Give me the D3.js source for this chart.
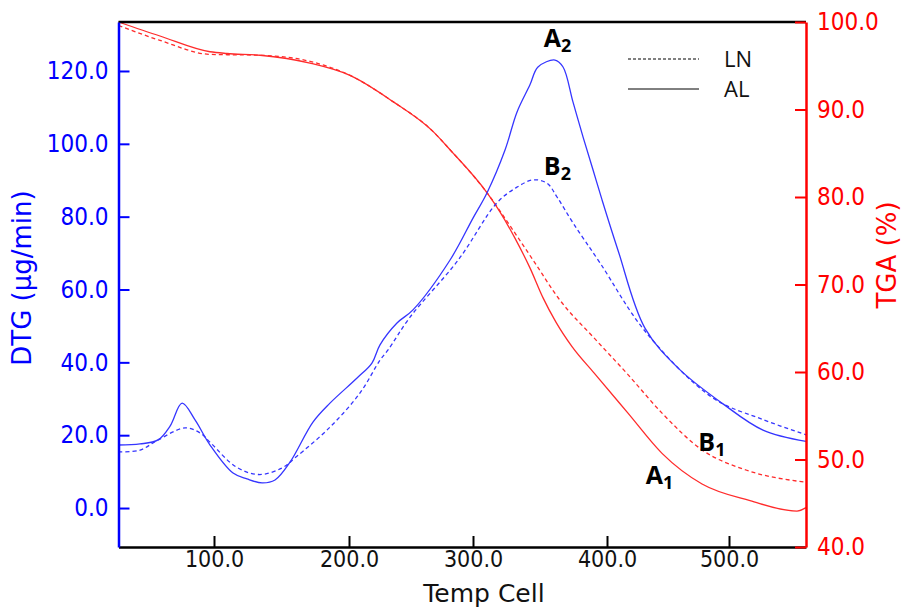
<!DOCTYPE html>
<html><head><meta charset="utf-8">
<script src="https://cdn.jsdelivr.net/npm/d3@7"></script>
<style>body{margin:0;background:#fff} svg{display:block}</style>
</head><body><svg id="c" width="901" height="610"></svg>
<script>
// ---- data ----
const xTicks = [100, 200, 300, 400, 500];
const dtgTicks = [0, 20, 40, 60, 80, 100, 120];
const tgaTicks = [40, 50, 60, 70, 80, 90, 100];
// temperature break points of the (non-uniform) Temp Cell axis
const tempBreaks = [30, 100, 200, 300, 400, 500, 563];

const alDtgT = [30, 45.8, 59, 67.8, 76.6, 86.1, 97.1, 114.1, 124.4, 135.6, 145.2, 156.3, 173.3, 185.9, 206.5, 218.5, 225, 238.7, 251.6, 281.5, 300, 310.4, 323.9, 332.8, 342.5, 348.5, 361.2, 367.2, 374.6, 382.1, 389.6, 396.3, 409, 431.1, 459, 495.1, 527.8, 563];
const alDtgV = [17.3, 17.6, 18.7, 22.5, 28.8, 24.2, 17.3, 9.6, 8.0, 6.9, 7.7, 12.6, 23.6, 28.8, 35.7, 39.8, 44.8, 50.8, 54.4, 68.1, 79.6, 86.5, 98.3, 108.7, 116.2, 121.1, 123.0, 121.1, 111.5, 101.9, 92.8, 84.6, 70.8, 49.4, 38.2, 28.6, 21.4, 18.3];

const lnDtgT = [30, 45.8, 59, 78.8, 89.8, 97.8, 116.3, 133.3, 150.4, 160.7, 185.9, 208.9, 225, 231.5, 249.2, 288.1, 317.9, 332.8, 344.8, 355.2, 362.7, 374.6, 394.8, 431.1, 486.5, 527.8, 563];
const lnDtgV = [15.4, 15.9, 18.7, 22.0, 20.6, 17.8, 11.3, 9.2, 11.0, 14.0, 22.2, 31.6, 40.6, 43.4, 52.4, 68.1, 83.8, 88.1, 90.1, 89.2, 85.4, 78.3, 67.3, 48.6, 30.3, 24.3, 20.1];

const alTgaT = [30, 60.4, 97.1, 109.6, 134.1, 171.1, 200.8, 235.5, 267.7, 281.5, 310.4, 320.1, 331.3, 342.5, 352.2, 361.9, 373.9, 390.3, 417.2, 445.1, 477.9, 517.2, 555.6, 563];
const alTgaV = [100.0, 98.4, 96.6, 96.4, 96.2, 95.3, 93.9, 90.9, 87.5, 85.4, 80.5, 78.3, 75.3, 71.9, 68.5, 65.7, 62.9, 59.9, 55.3, 50.7, 47.2, 45.3, 44.1, 44.5];

const lnTgaT = [30, 60.4, 97.1, 134.1, 171.1, 200.8, 235.5, 267.7, 281.5, 310.4, 329.9, 344.8, 364.9, 390.3, 417.2, 445.1, 477.9, 513.9, 563];
const lnTgaV = [99.6, 97.9, 96.3, 96.2, 95.5, 93.9, 90.9, 87.5, 85.4, 80.5, 76.2, 72.8, 68.2, 63.9, 59.7, 55.3, 51.1, 48.8, 47.4];

const legendNames = ["LN", "AL"];
const peakLabels = [
  {letter: "A", sub: "2", t: 363, v: 126.5, axis: "dtg"},
  {letter: "B", sub: "2", t: 363, v: 91.5, axis: "dtg"},
  {letter: "B", sub: "1", t: 486, v: 51.0, axis: "tga"},
  {letter: "A", sub: "1", t: 443, v: 47.2, axis: "tga"}
];

// ---- chart ----
const L = 118.5, R = 806, T = 22, B = 547;
const svg = d3.select("#c");
const x = d3.scaleLinear().domain(tempBreaks).range([L, 214, 349, 473, 607, 729, R]);
const yL = d3.scaleLinear().domain([-10.7, 133.45]).range([B, T]);
const yR = d3.scaleLinear().domain([40, 100]).range([B, T]);

const BLUE = "#3535ff", RED = "#ff2b2b";
const tickFont = "'DejaVu Sans Condensed','DejaVu Sans',sans-serif";
const titleFont = "'DejaVu Sans',sans-serif";

function series(tArr, vArr, y, color, dash, curve) {
  const pts = tArr.map((t, i) => [t, vArr[i]]);
  svg.append("path").datum(pts)
    .attr("fill", "none").attr("stroke", color).attr("stroke-width", 1.3)
    .attr("stroke-dasharray", dash || null)
    .attr("d", d3.line().x(d => x(d[0])).y(d => y(d[1])).curve(curve));
}
series(lnTgaT, lnTgaV, yR, RED, "4,3", d3.curveMonotoneX);
series(alTgaT, alTgaV, yR, RED, null, d3.curveMonotoneX);
series(lnDtgT, lnDtgV, yL, BLUE, "4,3", d3.curveCatmullRom.alpha(0.5));
series(alDtgT, alDtgV, yL, BLUE, null, d3.curveCatmullRom.alpha(0.5));

// top border
svg.append("line").attr("x1", L).attr("x2", R).attr("y1", T).attr("y2", T)
  .attr("stroke", "#000").attr("stroke-width", 2.5);

// bottom axis
const gx = svg.append("g").attr("transform", `translate(0,${B})`)
  .call(d3.axisBottom(x).tickValues(xTicks).tickFormat(d3.format(".1f")).tickSizeInner(-11).tickSizeOuter(0).tickPadding(4));
gx.select(".domain").attr("stroke", "#000").attr("stroke-width", 2.5);
gx.selectAll(".tick line").attr("stroke", "#000").attr("stroke-width", 2);
gx.selectAll("text").attr("fill", "#111").style("font-family", tickFont).style("font-size", "23px");

// left axis
const gl = svg.append("g").attr("transform", `translate(${L},0)`)
  .call(d3.axisLeft(yL).tickValues(dtgTicks).tickFormat(d3.format(".1f")).tickSizeInner(-11).tickSizeOuter(0).tickPadding(10));
gl.select(".domain").attr("stroke", "#0000ff").attr("stroke-width", 2.5);
gl.selectAll(".tick line").attr("stroke", "#0000ff").attr("stroke-width", 2);
gl.selectAll("text").attr("fill", "#0000ff").style("font-family", tickFont).style("font-size", "24px");

// right axis
const gr = svg.append("g").attr("transform", `translate(${R},0)`)
  .call(d3.axisRight(yR).tickValues(tgaTicks).tickFormat(d3.format(".1f")).tickSizeInner(-11).tickSizeOuter(0).tickPadding(11));
gr.select(".domain").attr("stroke", "#ff0000").attr("stroke-width", 2.5);
gr.selectAll(".tick line").attr("stroke", "#ff0000").attr("stroke-width", 2);
gr.selectAll("text").attr("fill", "#ff0000").style("font-family", tickFont).style("font-size", "24px");

// axis titles
svg.append("text").attr("x", 484).attr("y", 602).attr("text-anchor", "middle")
  .style("font-family", titleFont).style("font-size", "25px").attr("fill", "#111").text("Temp Cell");
svg.append("text").attr("transform", `translate(31,278) rotate(-90)`).attr("text-anchor", "middle")
  .style("font-family", titleFont).style("font-size", "26px").attr("fill", "#0000ff").text("DTG (μg/min)");
svg.append("text").attr("transform", `translate(896,255) rotate(-90)`).attr("text-anchor", "middle")
  .style("font-family", titleFont).style("font-size", "26px").attr("fill", "#ff0000").text("TGA (%)");

// legend
const legY = [59, 89];
legendNames.forEach((n, i) => {
  svg.append("line").attr("x1", 628).attr("x2", 699).attr("y1", legY[i]).attr("y2", legY[i])
    .attr("stroke", "#000").attr("stroke-width", 1).attr("stroke-dasharray", i === 0 ? "3,2" : null);
  svg.append("text").attr("x", 724).attr("y", legY[i] + 8)
    .style("font-family", "'Open Sans',sans-serif").style("font-size", "22px").attr("fill", "#111").text(n);
});

// peak labels
peakLabels.forEach(p => {
  const y = p.axis === "dtg" ? yL : yR;
  const t = svg.append("text").attr("x", x(p.t)).attr("y", y(p.v)).attr("text-anchor", "middle")
    .style("font-family", "'Open Sans',sans-serif").style("font-weight", "bold").attr("fill", "#000");
  t.append("tspan").style("font-size", "25px").text(p.letter);
  t.append("tspan").style("font-size", "18px").attr("dy", 5).text(p.sub);
});
</script></body></html>
